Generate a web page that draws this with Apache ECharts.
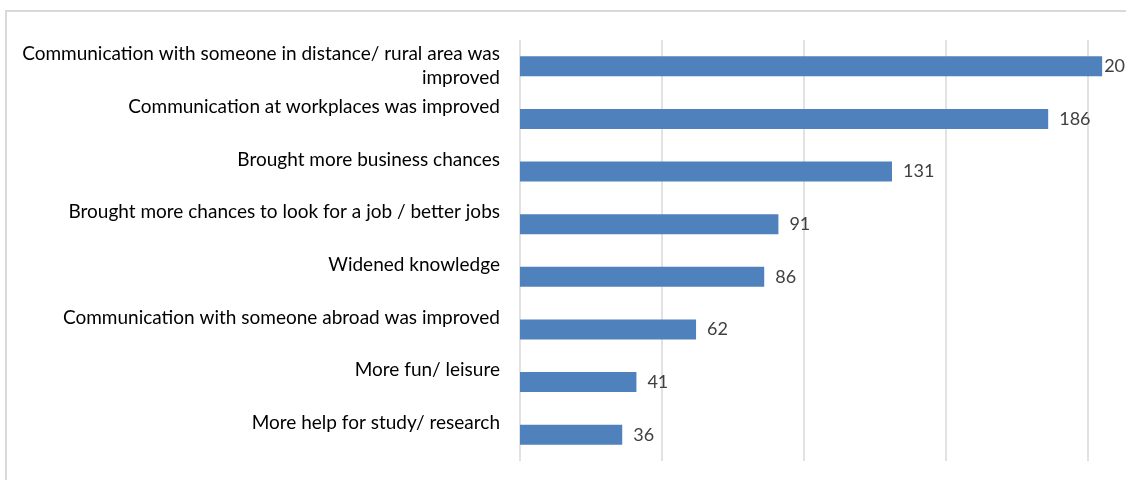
<!DOCTYPE html>
<html>
<head>
<meta charset="utf-8">
<script src="https://cdn.jsdelivr.net/npm/echarts@6/dist/echarts.min.js"></script>
<style>html,body{margin:0;padding:0;background:#fff}#c{width:1126px;height:480px}</style>
</head>
<body>
<div id="c"></div>
<script>
const categories = [
  "Communication with someone in distance/ rural area was\nimproved",
  "Communication at workplaces was improved",
  "Brought more business chances",
  "Brought more chances to look for a job / better jobs",
  "Widened knowledge",
  "Communication with someone abroad was improved",
  "More fun/ leisure",
  "More help for study/ research"
];
const values = [205, 186, 131, 91, 86, 62, 41, 36];

const chart = echarts.init(document.getElementById('c'), null, {renderer: 'canvas'});
chart.setOption({
  animation: false,
  graphic: [{
    type: 'rect', shape: {x: 6, y: 11, width: 1200, height: 600},
    style: {fill: 'none', stroke: '#d9d9d9', lineWidth: 2}, silent: true
  }],
  grid: {left: 520, top: 40, right: 0, bottom: 19, containLabel: false},
  xAxis: {
    type: 'value', min: 0, max: 213.4, interval: 50,
    axisLabel: {show: false}, axisLine: {show: false}, axisTick: {show: false},
    splitLine: {show: true, showMaxLine: false, lineStyle: {color: '#d9d9d9', width: 1.5}}
  },
  yAxis: {
    type: 'category', inverse: true, data: categories,
    axisLine: {show: false}, axisTick: {show: false},
    axisLabel: {
      margin: 20, fontFamily: 'Lato', fontSize: 19, color: '#000', lineHeight: 24, align: 'right',
      formatter: v => v.indexOf('\n') >= 0 ? v : v + '\n '
    }
  },
  series: [{
    type: 'bar', barWidth: 20, clip: false,
    data: values.map((v, i) => i === 0 ? {value: v, label: {distance: 2}} : v),
    itemStyle: {color: '#4f81bd'},
    label: {show: true, position: 'right', distance: 11, fontFamily: 'Lato', fontSize: 18, color: '#404040'}
  }]
});
</script>
</body>
</html>
